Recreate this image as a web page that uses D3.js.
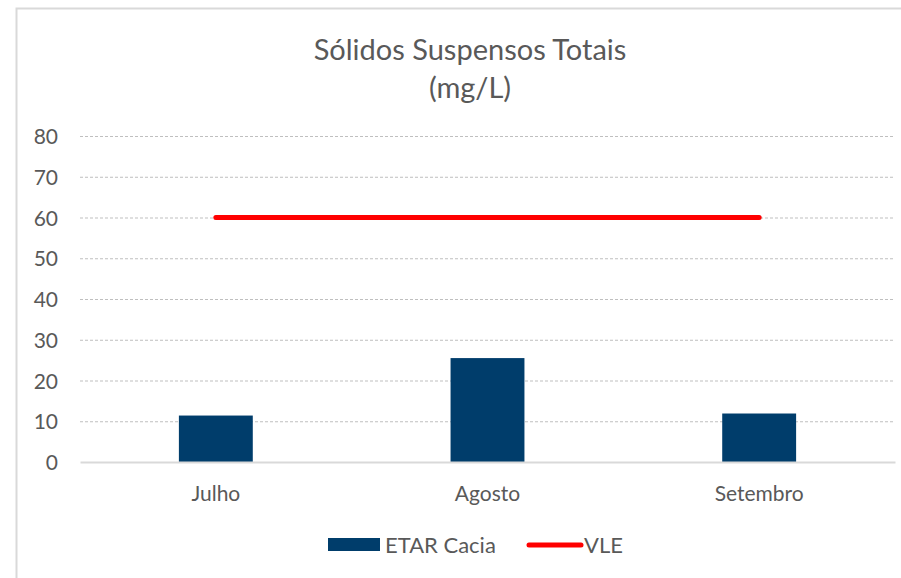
<!DOCTYPE html>
<html>
<head>
<meta charset="utf-8">
<script src="https://cdn.jsdelivr.net/npm/d3@7"></script>
<style>
  body { margin: 0; background: #fff; }
  text { font-family: Lato, "Open Sans", sans-serif; fill: #595959; }
</style>
</head>
<body>
<div id="chart"></div>
<script>
// chart data
const months = ["Julho", "Agosto", "Setembro"];
const etarCacia = [11.4, 25.5, 11.9];
const vle = [60, 60, 60];
const yTicks = [0, 10, 20, 30, 40, 50, 60, 70, 80];
const titleLines = ["Sólidos Suspensos Totais", "(mg/L)"];
const seriesNames = ["ETAR Cacia", "VLE"];

const W = 901, H = 578;
const margin = {top: 136, right: 6, bottom: 116, left: 80};
const width = W - margin.left - margin.right;
const height = H - margin.top - margin.bottom;

const svg = d3.select("#chart")
  .append("svg")
  .attr("width", W)
  .attr("height", H);

// outer frame
svg.append("rect")
  .attr("x", 16.5)
  .attr("y", 8.5)
  .attr("width", W + 20)
  .attr("height", H + 20)
  .attr("fill", "none")
  .attr("stroke", "#d9d9d9")
  .attr("stroke-width", 2);

// title
svg.append("g")
  .selectAll("text")
  .data(titleLines)
  .enter()
  .append("text")
  .attr("x", 470)
  .attr("y", (d, i) => 60 + i * 38)
  .attr("text-anchor", "middle")
  .style("font-size", "29px")
  .text(d => d);

const g = svg.append("g")
  .attr("transform", "translate(" + margin.left + "," + margin.top + ")");

const x = d3.scaleBand()
  .domain(months)
  .range([0, width])
  .padding(0);

const y = d3.scaleLinear()
  .domain([0, 80])
  .range([height, 0]);

const barW = x.bandwidth() * 0.272;

// gridlines
g.append("g")
  .selectAll("line")
  .data(yTicks.filter(t => t > 0))
  .enter()
  .append("line")
  .attr("x1", 0)
  .attr("x2", width)
  .attr("y1", d => y(d) + 0.5)
  .attr("y2", d => y(d) + 0.5)
  .attr("stroke", "#bfbfbf")
  .attr("stroke-width", 1)
  .attr("stroke-dasharray", "3,2");

// y axis labels
const yAxis = g.append("g")
  .call(d3.axisLeft(y).tickValues(yTicks).tickSize(0).tickPadding(22))
  .style("font-size", "21px");
yAxis.select(".domain").remove();
yAxis.selectAll("text")
  .attr("font-family", null)
  .attr("fill", null)
  .attr("dy", "0.36em");

// bars
g.append("g")
  .selectAll("rect")
  .data(etarCacia)
  .enter()
  .append("rect")
  .attr("x", (d, i) => x(months[i]) + x.bandwidth() / 2 - barW / 2)
  .attr("y", d => y(d))
  .attr("width", barW)
  .attr("height", d => height - y(d))
  .attr("fill", "#003d6b");

// category axis
const xAxis = g.append("g")
  .attr("transform", "translate(0," + height + ")")
  .call(d3.axisBottom(x).tickSize(0).tickPadding(24))
  .style("font-size", "21px");
xAxis.select(".domain")
  .attr("stroke", "#d9d9d9")
  .attr("stroke-width", 2);
xAxis.selectAll("text")
  .attr("font-family", null)
  .attr("fill", null);

// VLE line
const line = d3.line()
  .x((d, i) => x(months[i]) + x.bandwidth() / 2)
  .y(d => y(d));

g.append("path")
  .attr("d", line(vle))
  .attr("fill", "none")
  .attr("stroke", "#ff0000")
  .attr("stroke-width", 5)
  .attr("stroke-linecap", "round");

// legend
const legend = svg.append("g");
legend.append("rect")
  .attr("x", 328)
  .attr("y", 538)
  .attr("width", 52)
  .attr("height", 13)
  .attr("fill", "#003d6b");
legend.append("text")
  .attr("x", 385)
  .attr("y", 553)
  .style("font-size", "22px")
  .text(seriesNames[0]);
legend.append("line")
  .attr("x1", 529)
  .attr("x2", 581)
  .attr("y1", 545)
  .attr("y2", 545)
  .attr("stroke", "#ff0000")
  .attr("stroke-width", 5)
  .attr("stroke-linecap", "round");
legend.append("text")
  .attr("x", 584)
  .attr("y", 553)
  .style("font-size", "22px")
  .text(seriesNames[1]);
</script>
</body>
</html>
